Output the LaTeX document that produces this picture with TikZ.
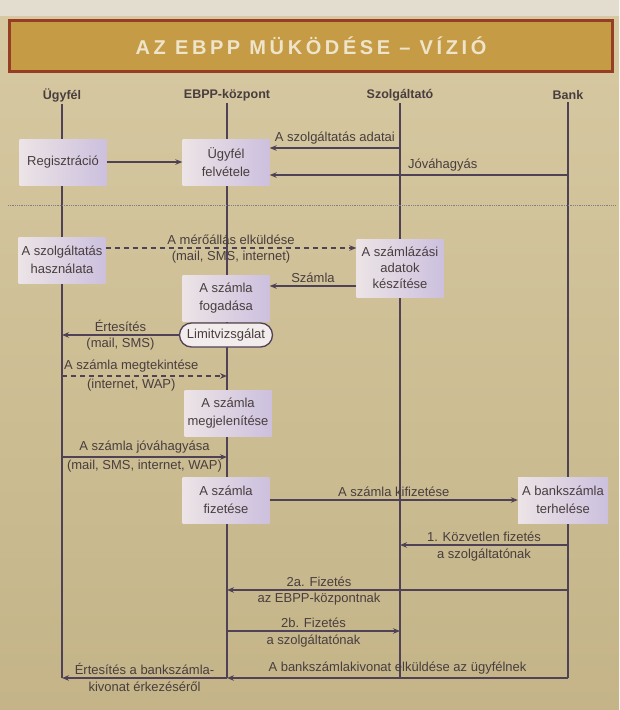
\documentclass[tikz,border=0pt]{standalone}
\usepackage{fontspec}
\setmainfont{Liberation Sans}
\usepackage{xcolor}
\usetikzlibrary{arrows.meta,positioning,shapes.misc}

\definecolor{bgtop}{RGB}{215,201,162}
\definecolor{bgbot}{RGB}{196,180,136}
\definecolor{strip}{RGB}{226,221,206}
\definecolor{titlefill}{RGB}{198,155,70}
\definecolor{titleedge}{RGB}{150,62,36}
\definecolor{titletext}{RGB}{238,228,202}
\definecolor{ink}{RGB}{72,62,62}
\definecolor{lifecol}{RGB}{80,66,86}
\definecolor{boxl}{RGB}{236,228,230}
\definecolor{boxr}{RGB}{204,192,222}

\begin{document}
\begin{tikzpicture}[x=1pt,y=-1pt,
  font=\fontsize{13}{17.5}\selectfont, text=ink,
  head/.style={font=\fontsize{12.5}{15}\selectfont\bfseries,inner sep=2pt},
  box/.style={minimum width=87pt,minimum height=46pt,align=center,left color=boxl,right color=boxr,inner sep=2pt},
  lim/.style={draw=lifecol,line width=1.3pt,rounded rectangle,fill=boxl!70!white,minimum width=97pt,minimum height=24pt,inner sep=2pt},
  lbl/.style={align=center,inner sep=3pt},
  life/.style={draw=lifecol,line width=1.6pt},
  arr/.style={-{Stealth[length=7pt,width=5.5pt]},draw=lifecol,line width=1.1pt},
  darr/.style={arr,dash pattern=on 5pt off 4pt}
]
% ---- page ----
\useasboundingbox (0,0) rectangle (619,710);
\fill[top color=bgtop,bottom color=bgbot] (0,0) rectangle (619,710);
\fill[strip] (0,0) rectangle (619,16);
\node[draw=titleedge,line width=2.5pt,fill=titlefill,minimum width=603pt,minimum height=51pt] (title) at (311,46)
  {\color{titletext}\fontsize{20}{22}\selectfont\bfseries\addfontfeature{LetterSpace=18}AZ EBPP MÜKÖDÉSE – VÍZIÓ};

% ---- actors and lifelines ----
\node[head] (hU) at (62,95)  {Ügyfél};
\node[head] (hE) at (227,95) {EBPP-központ};
\node[head] (hS) at (400,95) {Szolgáltató};
\node[head] (hB) at (568,95) {Bank};
\coordinate (b4) at (568,678);
\draw[life] (hU.south) -- (b4 -| hU);
\draw[life] (hE.south) -- (b4 -| hE);
\draw[life] (hS.south) -- (b4 -| hS);
\draw[life] (hB.south) -- (b4);
\draw[lifecol!70,densely dotted,line width=0.8pt] (8,205) -- (615,205);

% ---- steps ----
\node[box] (reg)   at (63,162)  {Regisztráció};
\node[box] (felv)  at (226,162) {Ügyfél\\felvétele};
\node[box] (hasz)  at (62,260)  {A szolgáltatás\\használata};
\node[box,minimum height=58pt,font=\fontsize{13}{16}\selectfont] (adat) at (400,268) {A számlázási\\adatok\\készítése};
\node[box] (fog)   at (226,298) {A számla\\fogadása};
\node[lim] (limit) at (226,335) {Limitvizsgálat};
\node[box] (megj)  at (228,413) {A számla\\megjelenítése};
\node[box] (fiz)   at (226,500) {A számla\\fizetése};
\node[box,minimum width=90pt] (terh) at (563,500) {A bankszámla\\terhelése};

% ---- registration ----
\coordinate (s1) at (400,148);
\coordinate (b1) at (568,175);
\draw[arr] (s1) -- (felv.east |- s1) node[midway,above,lbl] {A szolgáltatás adatai};
\draw[arr] (b1) -- (felv.east |- b1) node[pos=0.42,above,lbl] {Jóváhagyás};
\draw[arr] (reg) -- (felv);

% ---- billing ----
\coordinate (m1) at (230,248);
\coordinate (m2) at (300,286);
\draw[darr] (hasz.east |- m1) -- (adat.west |- m1)
  node[midway,above,lbl] {A mérőállás elküldése}
  node[midway,below,lbl] {(mail, SMS, internet)};
\draw[arr] (adat.west |- m2) -- (fog.east |- m2) node[midway,above,lbl] {Számla};
\draw[arr] (limit.west) -- (limit.west -| hU)
  node[midway,above,lbl] {Értesítés}
  node[midway,below,lbl] {(mail, SMS)};
\coordinate (u2) at (62,376);
\coordinate (u3) at (62,457);
\draw[darr] (u2) -- (u2 -| hE)
  node[pos=0.42,above,lbl] {A számla megtekintése}
  node[pos=0.42,below,lbl] {(internet, WAP)};
\draw[arr] (u3) -- (u3 -| hE)
  node[midway,above,lbl] {A számla jóváhagyása}
  node[midway,below,lbl] {(mail, SMS, internet, WAP)};

% ---- payment ----
\draw[arr] (fiz) -- (terh) node[midway,above,lbl] {A számla kifizetése};
\coordinate (b2) at (568,545);
\coordinate (b3) at (568,590);
\coordinate (e1) at (227,631);
\draw[arr] (b2) -- (b2 -| hS)
  node[midway,above,lbl] {1. Közvetlen fizetés}
  node[midway,below,lbl] {a szolgáltatónak};
\draw[arr] (b3) -- (b3 -| hE)
  node[pos=0.73,above,lbl] {2a. Fizetés}
  node[pos=0.73,below,lbl] {az EBPP-központnak};
\draw[arr] (e1) -- (e1 -| hS)
  node[midway,above,lbl] {2b. Fizetés}
  node[midway,below,lbl] {a szolgáltatónak};
\draw[arr] (b4) -- (b4 -| hE) node[midway,above,lbl] {A bankszámlakivonat elküldése az ügyfélnek};
\draw[arr] (b4 -| hE) -- (b4 -| hU)
  node[midway,above,lbl] {Értesítés a bankszámla-}
  node[midway,below,lbl] {kivonat érkezéséről};
\end{tikzpicture}
\end{document}
